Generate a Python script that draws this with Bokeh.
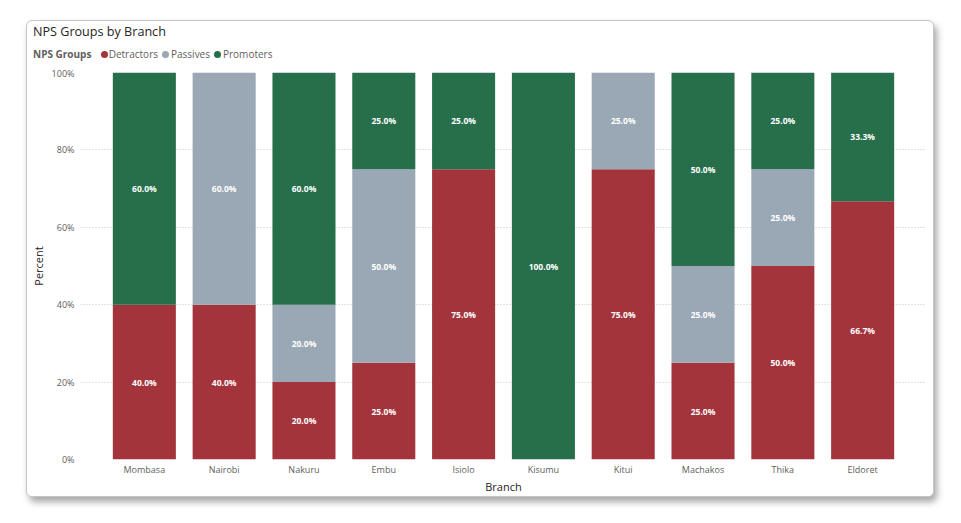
from bokeh.plotting import figure
from bokeh.layouts import column
from bokeh.models import (FactorRange, Range1d, FixedTicker, PrintfTickFormatter,
                          Div, ColumnDataSource)
from bokeh.core.properties import value
from bokeh.embed import file_html
from bokeh.resources import INLINE

# NPS group shares (percent) per branch
branches = ["Mombasa", "Nairobi", "Nakuru", "Embu", "Isiolo",
            "Kisumu", "Kitui", "Machakos", "Thika", "Eldoret"]
detractors = [40.0, 40.0, 20.0, 25.0, 75.0, 0.0, 75.0, 25.0, 50.0, 66.7]
passives = [0.0, 60.0, 20.0, 50.0, 0.0, 0.0, 25.0, 25.0, 25.0, 0.0]
promoters = [60.0, 0.0, 60.0, 25.0, 25.0, 100.0, 0.0, 50.0, 25.0, 33.3]
groups = ["Detractors", "Passives", "Promoters"]
colors = ["#A3343C", "#9AA7B4", "#276E4B"]
y_ticks = [0, 20, 40, 60, 80, 100]

FONT = "Open Sans"
CARD_W = 906

src = ColumnDataSource(dict(branch=branches, Detractors=detractors,
                            Passives=passives, Promoters=promoters))

# ---- header: title and legend as HTML ----
legend_pos = [(73.5, 81.7), (135.2, 144.0), (187.0, 196.0)]
items = ""
for name, color, (cx, tx) in zip(groups, colors, legend_pos):
    items += (f'<span style="position:absolute;left:{cx}px;top:30px;width:7px;height:7px;'
              f'border-radius:50%;background:{color}"></span>'
              f'<span style="position:absolute;left:{tx}px;top:27px;line-height:13px">{name}</span>')
header_html = (
    f'<div style="position:relative;width:{CARD_W}px;height:45px;font-family:\'{FONT}\';'
    f'color:#605E5C;font-size:10px">'
    f'<span style="position:absolute;left:6px;top:3px;font-size:12.6px;line-height:16px;'
    f'color:#252423">NPS Groups by Branch</span>'
    f'<span style="position:absolute;left:6px;top:27px;line-height:13px;font-weight:bold">'
    f'NPS Groups</span>' + items + '</div>'
)
header = Div(text=header_html, width=CARD_W, height=45, margin=0)

# ---- chart ----
p = figure(width=CARD_W, height=430, x_range=FactorRange(*branches, range_padding=0.06),
           y_range=Range1d(0, 100), output_backend="svg", toolbar_location=None,
           min_border_left=51, min_border_right=7, min_border_top=6,
           min_border_bottom=34, margin=0)
p.outline_line_color = None

p.vbar_stack(groups, x="branch", width=0.79, color=colors, line_color=None, source=src)

# segment labels at the middle of each non-zero segment
lx, ly, lt = [], [], []
for i, b in enumerate(branches):
    base = 0.0
    for vals in (detractors, passives, promoters):
        v = vals[i]
        if v > 0:
            lx.append(b)
            ly.append(base + v / 2)
            lt.append(f"{v:.1f}%")
        base += v
p.text(x=lx, y=ly, text=lt, text_color="white", text_font=value(FONT),
       text_font_size="8.5px", text_font_style="bold", text_align="center",
       text_baseline="middle")

p.xgrid.grid_line_color = None
p.ygrid.grid_line_color = "#c4c4c4"
p.ygrid.grid_line_dash = "1 2"
p.ygrid.ticker = FixedTicker(ticks=y_ticks)

p.yaxis.ticker = FixedTicker(ticks=y_ticks)
p.yaxis.formatter = PrintfTickFormatter(format="%d%%")
for ax in (p.xaxis[0], p.yaxis[0]):
    ax.axis_line_color = None
    ax.major_tick_line_color = None
    ax.minor_tick_line_color = None
    ax.major_tick_out = 0
    ax.major_tick_in = 0
    ax.minor_tick_out = 0
    ax.minor_tick_in = 0
    ax.major_label_text_font = FONT
    ax.major_label_text_font_size = "9px"
    ax.major_label_text_color = "#605E5C"
    ax.axis_label_text_font = FONT
    ax.axis_label_text_font_size = "11px"
    ax.axis_label_text_font_style = "normal"
    ax.axis_label_text_color = "#252423"
p.xaxis.axis_label = "Branch"
p.yaxis.axis_label = "Percent"
p.xaxis.major_label_standoff = 3
p.xaxis.axis_label_standoff = 0
p.xaxis.axis_label_text_line_height = 0.9
p.yaxis.major_label_standoff = 6
p.yaxis.axis_label_standoff = 3

card = column(header, p, margin=(20, 0, 0, 26),
              styles={"border": "1px solid #c6c6c6", "border-radius": "6px",
                      "box-shadow": "3px 5px 7px rgba(0,0,0,0.35)",
                      "background": "white", "overflow": "hidden"})

open("out.html", "w").write(file_html(card, INLINE))
